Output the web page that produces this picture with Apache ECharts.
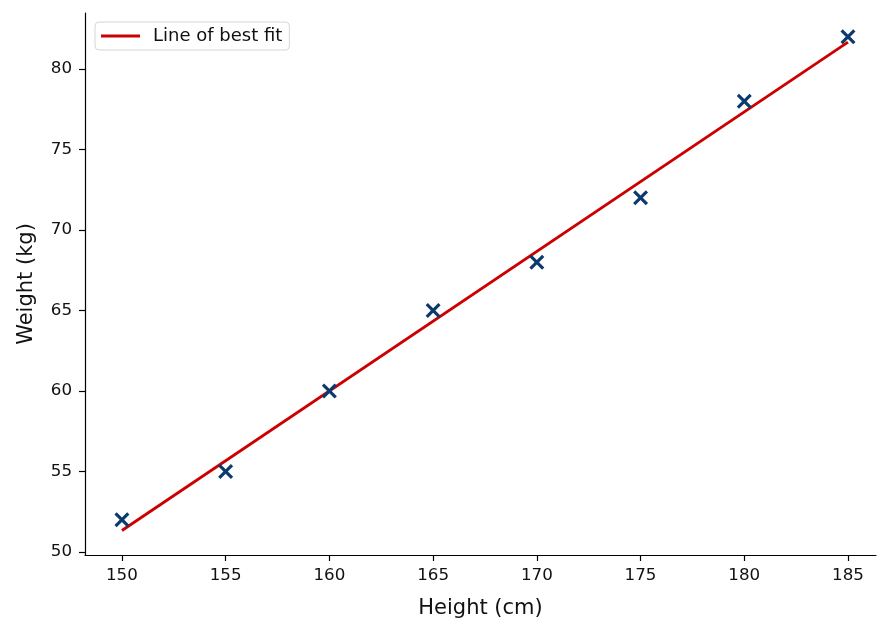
<!DOCTYPE html>
<html lang="en">
<head>
  <meta charset="UTF-8">
  <title>Height vs Weight</title>
  <style>
    html, body { margin: 0; padding: 0; background: #fff; }
  </style>
</head>
<body>
  <div id="main" style="width: 877px; height: 622px"></div>

  <script src="https://cdn.jsdelivr.net/npm/echarts@6/dist/echarts.min.js"></script>
  <script>
    // measured points
    var heights = [150, 155, 160, 165, 170, 175, 180, 185];
    var weights = [52, 55, 60, 65, 68, 72, 78, 82];

    // line of best fit, ends
    var fitX = [150, 185];
    var fitY = [51.33, 81.67];

    // tick labels
    var xTicks = [150, 155, 160, 165, 170, 175, 180, 185];
    var yTicks = [50, 55, 60, 65, 70, 75, 80];

    var font = "DejaVu Sans";
    var crossPath = "path://M0,1.5L1.5,0L5,3.5L8.5,0L10,1.5L6.5,5L10,8.5L8.5,10L5,6.5L1.5,10L0,8.5L3.5,5Z";

    window.onload = function () {
      var myChart = echarts.init(document.getElementById('main'), null, { renderer: 'canvas' });

      var points = heights.map(function (h, i) { return [h, weights[i]]; });
      var fit = fitX.map(function (x, i) { return [x, fitY[i]]; });

      var option = {
        animation: false,
        backgroundColor: '#ffffff',
        textStyle: { fontFamily: font },
        grid: { left: 85, right: 1, top: 13, bottom: 67, containLabel: false, outerBoundsMode: 'none' },
        legend: {
          left: 95, top: 22,
          padding: [5, 7, 5, 6],
          itemWidth: 39, itemHeight: 3, itemGap: 10,
          backgroundColor: '#fff',
          borderColor: '#d6d6d6', borderWidth: 1, borderRadius: 4,
          textStyle: { fontFamily: font, fontSize: 18, color: '#111', padding: [0, 0, 0, 8] },
          data: [{ name: 'Line of best fit', icon: 'rect' }]
        },
        xAxis: {
          type: 'value',
          min: 148.22, max: 186.35,
          name: 'Height (cm)',
          nameLocation: 'middle',
          nameGap: 43,
          nameTextStyle: { fontFamily: font, fontSize: 21, color: '#111' },
          axisLine: { show: true, onZero: false, lineStyle: { color: '#000', width: 1.2 } },
          axisTick: { show: true, length: 6, customValues: xTicks, lineStyle: { color: '#000', width: 1.2 } },
          axisLabel: { customValues: xTicks, fontFamily: font, fontSize: 16.7, color: '#111', margin: 12 },
          splitLine: { show: false }
        },
        yAxis: {
          type: 'value',
          min: 49.81, max: 83.48,
          name: 'Weight (kg)',
          nameLocation: 'middle',
          nameGap: 48,
          nameRotate: 90,
          nameTextStyle: { fontFamily: font, fontSize: 21, color: '#111' },
          axisLine: { show: true, onZero: false, lineStyle: { color: '#000', width: 1.2 } },
          axisTick: { show: true, length: 6, customValues: yTicks, lineStyle: { color: '#000', width: 1.2 } },
          axisLabel: { customValues: yTicks, fontFamily: font, fontSize: 16.7, color: '#111', margin: 13 },
          splitLine: { show: false }
        },
        series: [
          {
            name: 'Line of best fit',
            type: 'line',
            data: fit,
            symbol: 'none',
            z: 2,
            lineStyle: { color: '#cc0000', width: 2.8 },
            itemStyle: { color: '#cc0000' }
          },
          {
            name: 'Data',
            type: 'scatter',
            data: points,
            symbol: crossPath,
            symbolSize: 15,
            z: 3,
            itemStyle: { color: '#0c3a6d', opacity: 1 }
          }
        ]
      };

      myChart.setOption(option);
    };
  </script>
</body>
</html>
